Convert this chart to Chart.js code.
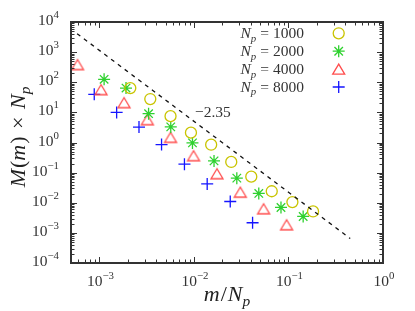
<!DOCTYPE html>
<html>
<head>
<meta charset="utf-8">
<script src="https://cdn.jsdelivr.net/npm/chart.js@4"></script>
<style>
  html, body { margin: 0; padding: 0; background: #fff; }
  canvas { display: block; }
</style>
</head>
<body>
<canvas id="grafico" width="415" height="311"></canvas>
<script>
// expoentes dos rótulos dos eixos (10^e)
const expoentesX = [-3, -2, -1, 0];
const expoentesY = [-4, -3, -2, -1, 0, 1, 2, 3, 4];
const nomesSeries = ["1000", "2000", "4000", "8000"];

const x1000 = [2.12e-3, 3.45e-3, 5.65e-3, 9.29e-3, 1.52e-2, 2.48e-2, 4.04e-2, 6.65e-2, 0.110, 0.182];
const y1000 = [64, 27.7, 7.5, 2.12, 0.845, 0.226, 0.0736, 0.0241, 0.0105, 0.00514];

const x2000 = [1.12e-3, 1.91e-3, 3.31e-3, 5.68e-3, 9.64e-3, 1.63e-2, 2.84e-2, 4.85e-2, 8.33e-2, 0.143];
const y2000 = [125, 64, 9.06, 3.3, 0.97, 0.245, 0.0656, 0.0204, 0.00698, 0.00351];

const x4000 = [5.86e-4, 1.04e-3, 1.82e-3, 3.21e-3, 5.65e-3, 9.9e-3, 1.75e-2, 3.09e-2, 5.45e-2, 9.55e-2];
const y4000 = [385, 56.8, 21, 5.7, 1.48, 0.364, 0.0919, 0.0225, 0.00632, 0.00186];

const x8000 = [8.81e-4, 1.52e-3, 2.62e-3, 4.54e-3, 7.93e-3, 1.38e-2, 2.42e-2, 4.17e-2];
const y8000 = [39.6, 10, 3.25, 0.851, 0.191, 0.0421, 0.0110, 0.00217];

// reta de referência, inclinação -2.35
const retaX = [5.8e-4, 0.45];
const retaY = [4100, 6.5e-4];
const rotuloInclinacao = "\u22122.35";

const FONTE = "'Liberation Serif', 'DejaVu Serif', serif";
const cores = ["#c9c400", "#2fd12f", "#ff4d4d", "#1414ff"];

function pontos(xs, ys) {
  return xs.map((x, i) => ({ x: x, y: ys[i] }));
}

function criarTriangulo(cor) {
  const c = document.createElement("canvas");
  c.width = 16; c.height = 16;
  const g = c.getContext("2d");
  g.strokeStyle = cor;
  g.lineWidth = 1.3;
  g.beginPath();
  g.moveTo(8, 3);
  g.lineTo(2, 13);
  g.lineTo(14, 13);
  g.closePath();
  g.stroke();
  return c;
}

// desenha texto com partes em itálico, subscrito ou sobrescrito
function larguraRica(ctx, partes, tam) {
  let w = 0;
  partes.forEach(p => {
    const t = p.sub || p.sup ? tam * 0.7 : tam;
    ctx.font = (p.it ? "italic " : "") + t + "px " + FONTE;
    w += ctx.measureText(p.t).width + (p.esp || 0);
  });
  return w;
}

function textoRico(ctx, partes, x, y, tam, alinh) {
  const w = larguraRica(ctx, partes, tam);
  let cx = alinh === "center" ? x - w / 2 : alinh === "right" ? x - w : x;
  ctx.textAlign = "left";
  ctx.textBaseline = "alphabetic";
  partes.forEach(p => {
    const t = p.sub || p.sup ? tam * 0.7 : tam;
    ctx.font = (p.it ? "italic " : "") + t + "px " + FONTE;
    let dy = 0;
    if (p.sub) dy = tam * 0.22;
    if (p.sup) dy = -tam * 0.45;
    ctx.fillText(p.t, cx, y + dy);
    cx += ctx.measureText(p.t).width + (p.esp || 0);
  });
}

function desenharMarcador(ctx, i, x, y) {
  ctx.save();
  ctx.strokeStyle = cores[i];
  ctx.lineWidth = 1.3;
  ctx.beginPath();
  if (i === 0) {
    ctx.arc(x, y, 5.5, 0, Math.PI * 2);
  } else if (i === 1) {
    for (let a = 0; a < 4; a++) {
      const ang = a * Math.PI / 4;
      ctx.moveTo(x - Math.cos(ang) * 6, y - Math.sin(ang) * 6);
      ctx.lineTo(x + Math.cos(ang) * 6, y + Math.sin(ang) * 6);
    }
  } else if (i === 2) {
    ctx.moveTo(x, y - 5);
    ctx.lineTo(x - 6, y + 5);
    ctx.lineTo(x + 6, y + 5);
    ctx.closePath();
  } else {
    ctx.moveTo(x - 6, y); ctx.lineTo(x + 6, y);
    ctx.moveTo(x, y - 6); ctx.lineTo(x, y + 6);
  }
  ctx.stroke();
  ctx.restore();
}

const moldura = {
  id: "moldura",
  afterDraw(chart) {
    const ctx = chart.ctx;
    const a = chart.chartArea;
    const sx = chart.scales.x;
    const sy = chart.scales.y;
    ctx.save();

    // marcas dos eixos, para dentro nos quatro lados
    ctx.strokeStyle = "#333";
    ctx.lineWidth = 1;
    ctx.beginPath();
    for (let e = -4; e <= 0; e++) {
      for (let k = 1; k <= 9; k++) {
        const v = k * Math.pow(10, e);
        if (v < sx.min * 0.999 || v > sx.max * 1.001) continue;
        const px = Math.round(sx.getPixelForValue(v)) + 0.5;
        const len = k === 1 ? 6 : 3.5;
        ctx.moveTo(px, a.bottom); ctx.lineTo(px, a.bottom - len);
        ctx.moveTo(px, a.top); ctx.lineTo(px, a.top + len);
      }
    }
    for (let e = -4; e <= 4; e++) {
      for (let k = 1; k <= 9; k++) {
        const v = k * Math.pow(10, e);
        if (v < sy.min * 0.999 || v > sy.max * 1.001) continue;
        const py = Math.round(sy.getPixelForValue(v)) + 0.5;
        const len = k === 1 ? 6 : 3.5;
        ctx.moveTo(a.left, py); ctx.lineTo(a.left + len, py);
        ctx.moveTo(a.right, py); ctx.lineTo(a.right - len, py);
      }
    }
    ctx.stroke();

    ctx.lineWidth = 2;
    ctx.strokeRect(a.left, a.top, a.right - a.left, a.bottom - a.top);

    // rótulos dos eixos
    ctx.fillStyle = "#333";
    expoentesX.forEach(e => {
      const px = sx.getPixelForValue(Math.pow(10, e));
      const partes = [{ t: "10" }, { t: String(e).replace("-", "\u2212"), sup: true }];
      textoRico(ctx, partes, px + 1, 285.5, 15.5, "center");
    });
    expoentesY.forEach(e => {
      const py = sy.getPixelForValue(Math.pow(10, e));
      const partes = [{ t: "10" }, { t: String(e).replace("-", "\u2212"), sup: true }];
      textoRico(ctx, partes, 59, py + 3, 15.5, "right");
    });

    // títulos
    ctx.fillStyle = "#222";
    textoRico(ctx, [{ t: "m", it: true, esp: 1 }, { t: "/", esp: 1 }, { t: "N", it: true }, { t: "p", it: true, sub: true }],
      227, 301, 22, "center");
    ctx.save();
    ctx.translate(25, 137);
    ctx.rotate(-Math.PI / 2);
    textoRico(ctx, [{ t: "M", it: true, esp: 1 }, { t: "(" }, { t: "m", it: true, esp: 1 }, { t: ")", esp: 2 },
      { t: " \u00d7 ", esp: 2 }, { t: "N", it: true }, { t: "p", it: true, sub: true }], 0, 0, 22, "center");
    ctx.restore();

    // legenda
    nomesSeries.forEach((nome, i) => {
      const y = 33.3 + i * 17.9;
      ctx.fillStyle = "#333";
      textoRico(ctx, [{ t: "N", it: true }, { t: "p", it: true, sub: true, esp: 4 }, { t: "=", esp: 4 }, { t: nome }],
        304, y + 5, 15.5, "right");
      desenharMarcador(ctx, i, 338.7, y);
    });

    // inclinação
    ctx.fillStyle = "#333";
    textoRico(ctx, [{ t: rotuloInclinacao }], 195, 117, 15.5, "left");

    ctx.restore();
  }
};

function criarGrafico() {
  const ctx = document.getElementById("grafico").getContext("2d");
  new Chart(ctx, {
    type: "scatter",
    data: {
      datasets: [
        {
          type: "line",
          data: pontos(retaX, retaY),
          borderColor: "#111",
          borderWidth: 1.3,
          borderDash: [4, 4.5],
          pointRadius: 0,
          fill: false
        },
        {
          label: nomesSeries[0],
          data: pontos(x1000, y1000),
          pointStyle: "circle",
          pointRadius: 5.5,
          borderColor: cores[0],
          backgroundColor: "rgba(0,0,0,0)",
          pointBorderWidth: 1.3
        },
        {
          label: nomesSeries[1],
          data: pontos(x2000, y2000),
          pointStyle: "star",
          pointRadius: 6,
          borderColor: cores[1],
          backgroundColor: cores[1],
          pointBorderWidth: 1.3
        },
        {
          label: nomesSeries[2],
          data: pontos(x4000, y4000),
          pointStyle: criarTriangulo(cores[2]),
          pointRadius: 6
        },
        {
          label: nomesSeries[3],
          data: pontos(x8000, y8000),
          pointStyle: "cross",
          pointRadius: 6,
          borderColor: cores[3],
          pointBorderWidth: 1.3
        }
      ]
    },
    options: {
      responsive: false,
      animation: false,
      events: [],
      layout: { padding: { left: 71, right: 32, top: 22, bottom: 48 } },
      plugins: { legend: { display: false }, tooltip: { enabled: false } },
      scales: {
        x: { type: "logarithmic", min: 5e-4, max: 1, display: false },
        y: { type: "logarithmic", min: 1e-4, max: 1e4, display: false }
      }
    },
    plugins: [moldura]
  });
}

criarGrafico();
</script>
</body>
</html>
